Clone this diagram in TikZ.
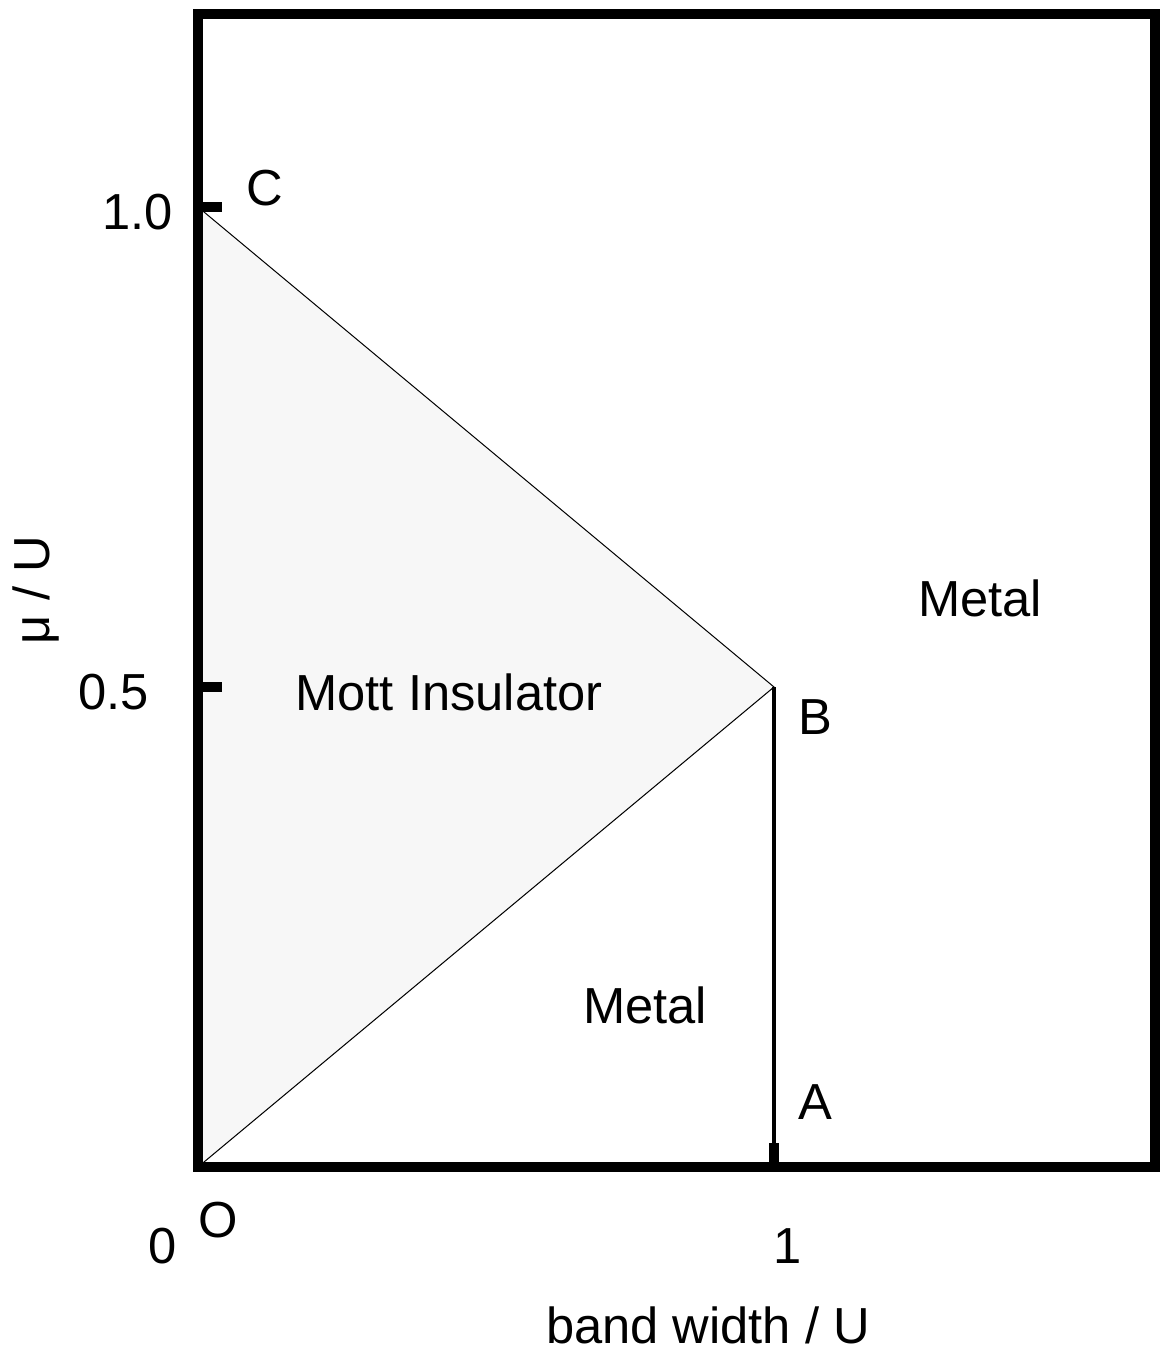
\documentclass[tikz,border=0pt]{standalone}
\usepackage{fontspec}
\setmainfont{Liberation Sans}
\begin{document}
\begin{tikzpicture}[x=0.75pt,y=-0.75pt,
  lbl/.style={inner sep=0pt,font=\fontsize{38}{40}\selectfont},
  frameline/.style={line width=7.5pt},
  tickline/.style={line width=7.5pt},
  boundary/.style={line width=0.75pt},
  vline/.style={line width=2.5pt}]
\useasboundingbox (0,0) rectangle (1160,1352);
\coordinate (O) at (198,1167);
\coordinate (C) at (198,207);
\coordinate (B) at (774,687);
\coordinate (A) at (774,1167);
\coordinate (H) at (198,687);
\coordinate (Atop) at (774,1143);
\coordinate (Ct) at (222,207);
\coordinate (Ht) at (222,687);
\fill[black!3] (C) -- (B) -- (O) -- cycle;
\draw[boundary] (C) -- (B) -- (O);
\draw[vline] (B) -- (A);
\draw[frameline] (198,14) rectangle (1155,1167);
\draw[tickline] (C) -- (Ct);
\draw[tickline] (H) -- (Ht);
\draw[tickline] (Atop) -- (A);
\node[lbl,anchor=east] (l10) at (173,212) {1.0};
\node[lbl,anchor=east] (l05) at (149,692) {0.5};
\node[lbl] (lC) at (265,188) {C};
\node[lbl] (lB) at (815,717) {B};
\node[lbl] (lA) at (815,1102) {A};
\node[lbl] (lO) at (218,1220) {O};
\node[lbl] (l0) at (163,1246) {0};
\node[lbl] (l1) at (788,1246) {1};
\node[lbl] (xl) at (708,1325) {band width / U};
\node[lbl,rotate=90] (yl) at (36,590) {μ / U};
\node[lbl] (mi) at (449,692) {Mott Insulator};
\node[lbl] (m1) at (645,1005) {Metal};
\node[lbl] (m2) at (980,598) {Metal};
\end{tikzpicture}
\end{document}
